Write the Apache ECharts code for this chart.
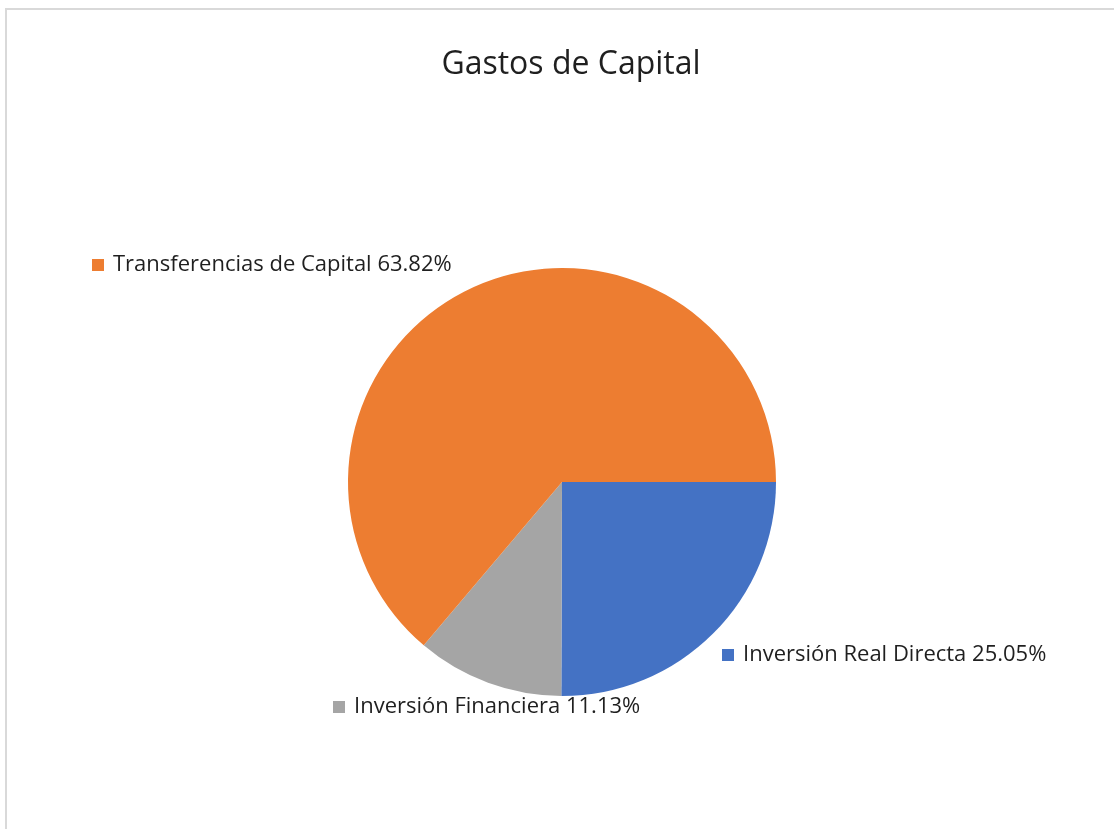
<!DOCTYPE html>
<html>
<head>
<meta charset="utf-8">
<script src="https://cdn.jsdelivr.net/npm/echarts@6/dist/echarts.min.js"></script>
<style>
  html, body { margin: 0; padding: 0; background: #fff; }
  #frame {
    position: absolute; left: 5px; top: 8px;
    width: 1200px; height: 900px;
    border-left: 2px solid #d9d9d9; border-top: 2px solid #d9d9d9;
  }
  #main { position: absolute; left: 0; top: 0; width: 1114px; height: 829px; }
</style>
</head>
<body>
<div id="frame"></div>
<div id="main"></div>
<script>
var categories = ['Inversión Real Directa', 'Inversión Financiera', 'Transferencias de Capital'];
var shares = [25.05, 11.13, 63.82];
var colors = ['#4472c4', '#a5a5a5', '#ed7d31'];

// where each label starts (left edge of the square marker, vertical middle)
var labelPos = [[722, 655], [333, 707], [92, 265]];

var mycharts = echarts.init(document.getElementById('main'));

var data = categories.map(function(name, i){
  return {
    name: name,
    value: shares[i],
    itemStyle: { color: colors[i] },
    label: {
      rich: {
        m: { width: 12, height: 12, backgroundColor: colors[i] }
      }
    }
  };
});

var options = {
  animation: false,
  title: {
    text: 'Gastos de Capital',
    left: 566,
    top: 44,
    textAlign: 'center',
    textStyle: {
      fontFamily: 'Open Sans',
      fontSize: 32,
      fontWeight: 'normal',
      color: '#1f1f1f'
    }
  },
  series: [{
    type: 'pie',
    center: [562, 482],
    radius: 214,
    startAngle: 0,
    clockwise: true,
    data: data,
    itemStyle: { borderWidth: 0 },
    labelLine: { show: false },
    label: {
      show: true,
      position: 'outside',
      formatter: function(p){
        return '{m|}{g|}{t|' + p.name + ' ' + p.value.toFixed(2) + '%}';
      },
      rich: {
        g: { width: 9 },
        t: {
          fontFamily: 'Open Sans',
          fontSize: 22,
          color: '#1f1f1f'
        }
      }
    },
    labelLayout: function(p){
      var pos = labelPos[p.dataIndex];
      return { x: pos[0], y: pos[1], align: 'left', verticalAlign: 'middle' };
    }
  }]
};
mycharts.setOption(options);
</script>
</body>
</html>
